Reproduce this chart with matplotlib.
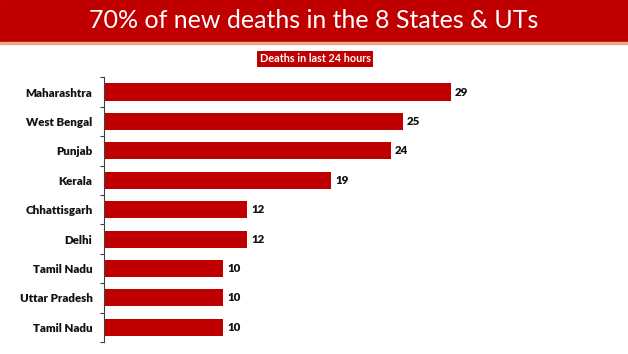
import matplotlib.pyplot as plt
from matplotlib.patches import Rectangle

states = ["Maharashtra", "West Bengal", "Punjab", "Kerala", "Chhattisgarh",
          "Delhi", "Tamil Nadu", "Uttar Pradesh", "Tamil Nadu"]
deaths = [29, 25, 24, 19, 12, 12, 10, 10, 10]

title = "70% of new deaths in the 8 States & UTs"
subtitle = "Deaths in last 24 hours"

red = "#C00000"
W, H = 628, 354
fig = plt.figure(figsize=(W / 100, H / 100), dpi=100)

# header band
fig.patches.append(Rectangle((0, 1 - 42 / H), 1, 42 / H, transform=fig.transFigure,
                             color=red, zorder=0))
fig.patches.append(Rectangle((0, 1 - 43.5 / H), 1, 1.5 / H, transform=fig.transFigure,
                             color="#EBA98C", zorder=0))
fig.text(0.5, 1 - 21 / H, title, ha="center", va="center", color="white",
         fontsize=18, family="Lato")
fig.text(315 / W, 1 - 59 / H, subtitle, ha="center", va="center", color="white",
         fontsize=7.8, family="Lato", fontweight="bold",
         bbox=dict(boxstyle="square,pad=0.25", fc=red, ec="none"))

left, right = 103.6, 600
top, bottom = 77.3, 342
ax = fig.add_axes([left / W, 1 - bottom / H, (right - left) / W, (bottom - top) / H])
y = list(range(len(states)))
ax.barh(y, deaths, height=0.58, color=red)
ax.set_xlim(0, (right - left) / 11.97)
ax.set_ylim(len(states) - 0.5, -0.5)
ax.set_yticks(y)
ax.set_yticklabels(states, family="Lato", fontweight="heavy", fontsize=8.3, color="#111111")
ax.tick_params(axis="y", which="major", length=0, pad=8)
ax.set_yticks([i - 0.5 for i in range(len(states) + 1)], minor=True)
ax.tick_params(axis="y", which="minor", length=3, width=0.8, color="#404040")
ax.set_xticks([])
for s in ["top", "right", "bottom"]:
    ax.spines[s].set_visible(False)
ax.spines["left"].set_color("#404040")
ax.spines["left"].set_linewidth(0.8)

for i, v in enumerate(deaths):
    ax.text(v + 0.35, i, str(v), va="center", ha="left", family="Lato",
            fontweight="heavy", fontsize=8.3, color="#111111")

fig.savefig("out.png", dpi=100)
